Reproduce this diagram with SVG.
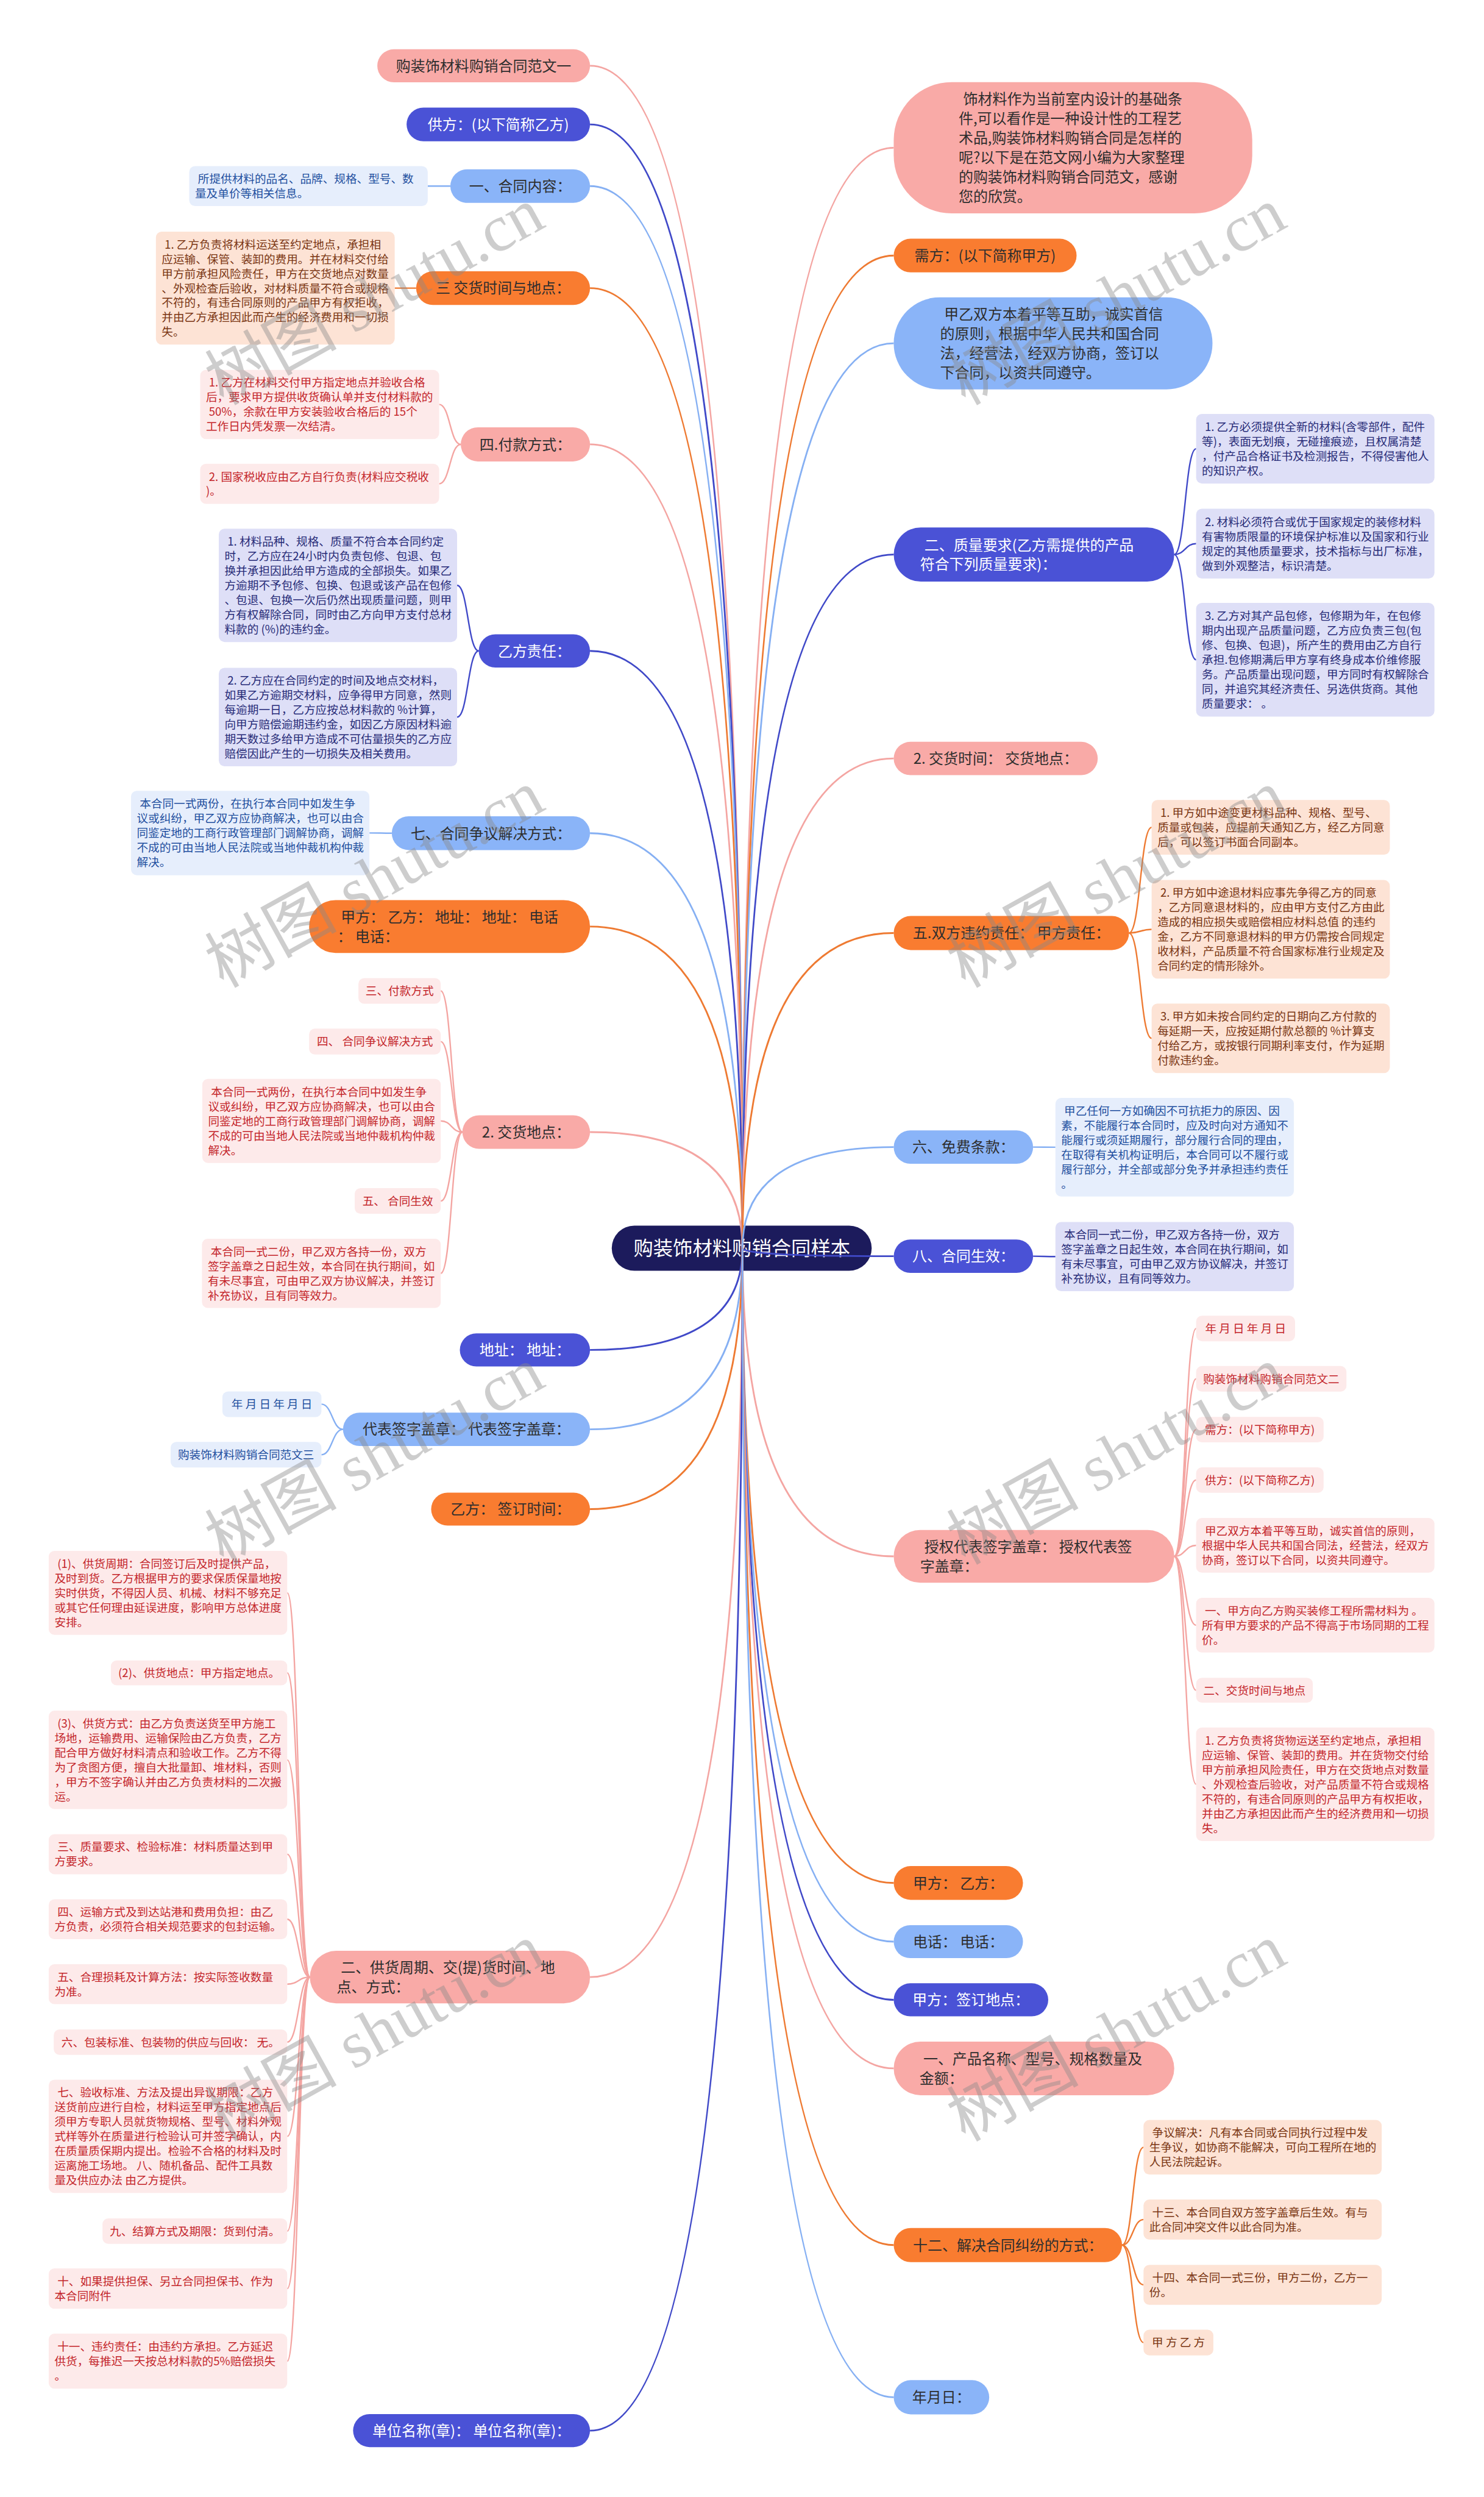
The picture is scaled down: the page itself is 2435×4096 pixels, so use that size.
<svg xmlns="http://www.w3.org/2000/svg" width="2435" height="4096" viewBox="0 0 2435 4096">
<style>
text{font-family:"Noto Sans CJK SC","Liberation Sans",sans-serif}
.m{font-size:25.2px;fill:#2e2e2e}
.w{fill:#ffffff}
.mc{text-anchor:middle}
.c{font-size:19.6px}
.pk{fill:#f9aaa7}.bl{fill:#4a52d6}.lb{fill:#8ab4f8}.or{fill:#f97c30}
.cpk{fill:#fdeaea}.cbl{fill:#dedff7}.clb{fill:#e6eefc}.cor{fill:#fde3d5}
.tpk{fill:#c4262b}.tbl{fill:#272b78}.tlb{fill:#1f4f9f}.tor{fill:#7a3512}
.k{fill:none;stroke-width:3}
.s{fill:none;stroke-width:2.5}
.kpk{stroke:#f4a5a2}.kbl{stroke:#4049c8}.klb{stroke:#86b0f3}.kor{stroke:#ee7a32}
.wm{font-family:"Liberation Serif","Noto Sans CJK SC",serif;font-size:114px;fill:#8a8a8a;opacity:0.42}
</style>
<rect width="2435" height="4096" fill="#ffffff"/>
<g transform="scale(0.951)">
<g id="root"><rect x="1055.5" y="2114" width="448.5" height="78" rx="39" fill="#1c1b5c"/><text class="mc" x="1280" y="2165.6" font-size="34" fill="#ffffff">购装饰材料购销合同样本</text></g>
<g id="connectors">
<path class="k kpk" d="M1281,2153 Q1281,113.5 1018,113.5"/>
<path class="k kbl" d="M1281,2153 Q1281,214.6 1018,214.6"/>
<path class="k klb" d="M1281,2153 Q1281,321 1018,321"/>
<path class="k kor" d="M1281,2153 Q1281,497 1018,497"/>
<path class="k kpk" d="M1281,2153 Q1281,766.5 1018,766.5"/>
<path class="k kbl" d="M1281,2153 Q1281,1122.75 1018,1122.75"/>
<path class="k klb" d="M1281,2153 Q1281,1437.15 1018,1437.15"/>
<path class="k kor" d="M1281,2153 Q1281,1598.2 1018,1598.2"/>
<path class="k kpk" d="M1281,2153 Q1281,1952.7 1018,1952.7"/>
<path class="k kbl" d="M1281,2153 Q1281,2328.5 1018,2328.5"/>
<path class="k klb" d="M1281,2153 Q1281,2465.45 1018,2465.45"/>
<path class="k kor" d="M1281,2153 Q1281,2603.1 1018,2603.1"/>
<path class="k kpk" d="M1281,2153 Q1281,3410.25 1018,3410.25"/>
<path class="k kbl" d="M1281,2153 Q1281,4192.5 1018,4192.5"/>
<path class="k kpk" d="M1281,2153 Q1281,254.8 1542,254.8"/>
<path class="k kor" d="M1281,2153 Q1281,440.8 1542,440.8"/>
<path class="k klb" d="M1281,2153 Q1281,592.2 1542,592.2"/>
<path class="k kbl" d="M1281,2153 Q1281,956.5 1542,956.5"/>
<path class="k kpk" d="M1281,2153 Q1281,1308.25 1542,1308.25"/>
<path class="k kor" d="M1281,2153 Q1281,1609.4 1542,1609.4"/>
<path class="k klb" d="M1281,2153 Q1281,1978.6 1542,1978.6"/>
<path class="k kbl" d="M1281,2153 Q1281,2166.8 1542,2166.8"/>
<path class="k kpk" d="M1281,2153 Q1281,2684.5 1542,2684.5"/>
<path class="k kor" d="M1281,2153 Q1281,3247.9 1542,3247.9"/>
<path class="k klb" d="M1281,2153 Q1281,3349.1 1542,3349.1"/>
<path class="k kbl" d="M1281,2153 Q1281,3449.5 1542,3449.5"/>
<path class="k kpk" d="M1281,2153 Q1281,3567.75 1542,3567.75"/>
<path class="k kor" d="M1281,2153 Q1281,3872.5 1542,3872.5"/>
<path class="k klb" d="M1281,2153 Q1281,4135 1542,4135"/>
<path class="s klb" d="M777,321 L738,321"/>
<path class="s kor" d="M718,497 L681,497"/>
<path class="s kpk" d="M795,766.5 C776.35,766.5 776.35,697.5 757.7,697.5"/>
<path class="s kpk" d="M795,766.5 C776.35,766.5 776.35,834.5 757.7,834.5"/>
<path class="s kbl" d="M826,1122.75 C807.35,1122.75 807.35,1009.7 788.7,1009.7"/>
<path class="s kbl" d="M826,1122.75 C807.35,1122.75 807.35,1236.9 788.7,1236.9"/>
<path class="s klb" d="M676,1437.15 C656.7,1437.15 656.7,1436.8 637.4,1436.8"/>
<path class="s kpk" d="M797.8,1952.7 C779.15,1952.7 779.15,1709.3 760.5,1709.3"/>
<path class="s kpk" d="M797.8,1952.7 C779.15,1952.7 779.15,1796.65 760.5,1796.65"/>
<path class="s kpk" d="M797.8,1952.7 C779.15,1952.7 779.15,1933.5 760.5,1933.5"/>
<path class="s kpk" d="M797.8,1952.7 C779.15,1952.7 779.15,2071.5 760.5,2071.5"/>
<path class="s kpk" d="M797.8,1952.7 C779.15,1952.7 779.15,2196.3 760.5,2196.3"/>
<path class="s klb" d="M591.8,2465.45 C573.2,2465.45 573.2,2422.1 554.6,2422.1"/>
<path class="s klb" d="M591.8,2465.45 C573.2,2465.45 573.2,2509.25 554.6,2509.25"/>
<path class="s kpk" d="M534.7,3410.25 C515.15,3410.25 515.15,2747.5 495.6,2747.5"/>
<path class="s kpk" d="M534.7,3410.25 C515.15,3410.25 515.15,2885.5 495.6,2885.5"/>
<path class="s kpk" d="M534.7,3410.25 C515.15,3410.25 515.15,3035.6 495.6,3035.6"/>
<path class="s kpk" d="M534.7,3410.25 C515.15,3410.25 515.15,3198.3 495.6,3198.3"/>
<path class="s kpk" d="M534.7,3410.25 C515.15,3410.25 515.15,3310.5 495.6,3310.5"/>
<path class="s kpk" d="M534.7,3410.25 C515.15,3410.25 515.15,3422.5 495.6,3422.5"/>
<path class="s kpk" d="M534.7,3410.25 C515.15,3410.25 515.15,3522.4 495.6,3522.4"/>
<path class="s kpk" d="M534.7,3410.25 C515.15,3410.25 515.15,3684.9 495.6,3684.9"/>
<path class="s kpk" d="M534.7,3410.25 C515.15,3410.25 515.15,3848.4 495.6,3848.4"/>
<path class="s kpk" d="M534.7,3410.25 C515.15,3410.25 515.15,3947.5 495.6,3947.5"/>
<path class="s kpk" d="M534.7,3410.25 C515.15,3410.25 515.15,4072.7 495.6,4072.7"/>
<path class="s kbl" d="M2026,956.5 C2044.9,956.5 2044.9,774 2063.75,774"/>
<path class="s kbl" d="M2026,956.5 C2044.9,956.5 2044.9,937.75 2063.75,937.75"/>
<path class="s kbl" d="M2026,956.5 C2044.9,956.5 2044.9,1138 2063.75,1138"/>
<path class="s kor" d="M1948,1609.4 C1967.5,1609.4 1967.5,1427.05 1987,1427.05"/>
<path class="s kor" d="M1948,1609.4 C1967.5,1609.4 1967.5,1603 1987,1603"/>
<path class="s kor" d="M1948,1609.4 C1967.5,1609.4 1967.5,1791 1987,1791"/>
<path class="s klb" d="M1782.5,1978.6 C1801.75,1978.6 1801.75,1978.9 1821,1978.9"/>
<path class="s kbl" d="M1782.5,2166.8 C1801.75,2166.8 1801.75,2167.5 1821,2167.5"/>
<path class="s kpk" d="M2026,2684.5 C2044.9,2684.5 2044.9,2291.45 2063.75,2291.45"/>
<path class="s kpk" d="M2026,2684.5 C2044.9,2684.5 2044.9,2378.35 2063.75,2378.35"/>
<path class="s kpk" d="M2026,2684.5 C2044.9,2684.5 2044.9,2466 2063.75,2466"/>
<path class="s kpk" d="M2026,2684.5 C2044.9,2684.5 2044.9,2553 2063.75,2553"/>
<path class="s kpk" d="M2026,2684.5 C2044.9,2684.5 2044.9,2665.6 2063.75,2665.6"/>
<path class="s kpk" d="M2026,2684.5 C2044.9,2684.5 2044.9,2803.25 2063.75,2803.25"/>
<path class="s kpk" d="M2026,2684.5 C2044.9,2684.5 2044.9,2915.5 2063.75,2915.5"/>
<path class="s kpk" d="M2026,2684.5 C2044.9,2684.5 2044.9,3077.7 2063.75,3077.7"/>
<path class="s kor" d="M1936,3872.5 C1954.5,3872.5 1954.5,3703.8 1973,3703.8"/>
<path class="s kor" d="M1936,3872.5 C1954.5,3872.5 1954.5,3828.5 1973,3828.5"/>
<path class="s kor" d="M1936,3872.5 C1954.5,3872.5 1954.5,3941.1 1973,3941.1"/>
<path class="s kor" d="M1936,3872.5 C1954.5,3872.5 1954.5,4040.6 1973,4040.6"/>
</g>

<g id="n-l1"><rect class="pk" x="651" y="85" width="367" height="57" rx="28.5"/><text class="m mc" x="834.5" y="122.8">购装饰材料购销合同范文一</text></g>
<g id="n-l2"><rect class="bl" x="701.5" y="185.5" width="316.5" height="58.2" rx="29.1"/><text class="m mc w" x="859.75" y="223.9">供方：(以下简称乙方)</text></g>
<g id="n-l3"><rect class="lb" x="777" y="292" width="241" height="58" rx="29"/><text class="m mc" x="897.5" y="330.3">一、合同内容：</text></g>
<g id="n-l3a"><rect class="clb" x="326.5" y="286.5" width="411.5" height="69" rx="10"/><text class="c tlb" x="336.5" y="315.65"><tspan x="341.5">所提供材料的品名、品牌、规格、型号、数</tspan><tspan x="336.5" dy="25.2">量及单价等相关信息。</tspan></text></g>
<g id="n-l4"><rect class="or" x="718" y="468" width="300" height="58" rx="29"/><text class="m mc" x="868" y="506.3">三 交货时间与地点：</text></g>
<g id="n-l4a"><rect class="cor" x="269" y="399.5" width="412" height="195" rx="10"/><text class="c tor" x="279" y="428.65"><tspan x="284">1. 乙方负责将材料运送至约定地点，承担相</tspan><tspan x="279" dy="25.2">应运输、保管、装卸的费用。并在材料交付给</tspan><tspan x="279" dy="25.2">甲方前承担风险责任，甲方在交货地点对数量</tspan><tspan x="279" dy="25.2">、外观检查后验收，对材料质量不符合或规格</tspan><tspan x="279" dy="25.2">不符的，有违合同原则的产品甲方有权拒收，</tspan><tspan x="279" dy="25.2">并由乙方承担因此而产生的经济费用和一切损</tspan><tspan x="279" dy="25.2">失。</tspan></text></g>
<g id="n-l5"><rect class="pk" x="795" y="737" width="223" height="59" rx="29.5"/><text class="m mc" x="906.5" y="775.8">四.付款方式：</text></g>
<g id="n-l5a"><rect class="cpk" x="345.4" y="638" width="412.3" height="119.4" rx="10"/><text class="c tpk" x="355.4" y="667.15"><tspan x="360.4">1. 乙方在材料交付甲方指定地点并验收合格</tspan><tspan x="355.4" dy="25.2">后，要求甲方提供收货确认单并支付材料款的</tspan><tspan x="360.4" dy="25.2">50%，余款在甲方安装验收合格后的 15个</tspan><tspan x="355.4" dy="25.2">工作日内凭发票一次结清。</tspan></text></g>
<g id="n-l5b"><rect class="cpk" x="345.4" y="800" width="412.3" height="69" rx="10"/><text class="c tpk" x="355.4" y="829.15"><tspan x="360.4">2. 国家税收应由乙方自行负责(材料应交税收</tspan><tspan x="355.4" dy="25.2">)。</tspan></text></g>
<g id="n-l6"><rect class="bl" x="826" y="1094" width="192" height="57.5" rx="28.75"/><text class="m mc w" x="922" y="1132.05">乙方责任：</text></g>
<g id="n-l6a"><rect class="cbl" x="377.5" y="912" width="411.2" height="195.4" rx="10"/><text class="c tbl" x="387.5" y="941.35"><tspan x="392.5">1. 材料品种、规格、质量不符合本合同约定</tspan><tspan x="387.5" dy="25.2">时，乙方应在24小时内负责包修、包退、包</tspan><tspan x="387.5" dy="25.2">换并承担因此给甲方造成的全部损失。如果乙</tspan><tspan x="387.5" dy="25.2">方逾期不予包修、包换、包退或该产品在包修</tspan><tspan x="387.5" dy="25.2">、包退、包换一次后仍然出现质量问题，则甲</tspan><tspan x="387.5" dy="25.2">方有权解除合同，同时由乙方向甲方支付总材</tspan><tspan x="387.5" dy="25.2">料款的 (%)的违约金。</tspan></text></g>
<g id="n-l6b"><rect class="cbl" x="377.5" y="1152" width="411.2" height="169.8" rx="10"/><text class="c tbl" x="387.5" y="1181.15"><tspan x="392.5">2. 乙方应在合同约定的时间及地点交材料，</tspan><tspan x="387.5" dy="25.2">如果乙方逾期交材料，应争得甲方同意，然则</tspan><tspan x="387.5" dy="25.2">每逾期一日，乙方应按总材料款的 %计算，</tspan><tspan x="387.5" dy="25.2">向甲方赔偿逾期违约金，如因乙方原因材料逾</tspan><tspan x="387.5" dy="25.2">期天数过多给甲方造成不可估量损失的乙方应</tspan><tspan x="387.5" dy="25.2">赔偿因此产生的一切损失及相关费用。</tspan></text></g>
<g id="n-l7"><rect class="lb" x="676" y="1408" width="342" height="58.3" rx="29.15"/><text class="m mc" x="847" y="1446.45">七、合同争议解决方式：</text></g>
<g id="n-l7a"><rect class="clb" x="226" y="1364" width="411.4" height="145.6" rx="10"/><text class="c tlb" x="236" y="1393.65"><tspan x="241">本合同一式两份，在执行本合同中如发生争</tspan><tspan x="236" dy="25.2">议或纠纷，甲乙双方应协商解决，也可以由合</tspan><tspan x="236" dy="25.2">同鉴定地的工商行政管理部门调解协商，调解</tspan><tspan x="236" dy="25.2">不成的可由当地人民法院或当地仲裁机构仲裁</tspan><tspan x="236" dy="25.2">解决。</tspan></text></g>
<g id="n-l8"><rect class="or" x="533.3" y="1552.5" width="484.7" height="91.4" rx="45.7"/><text class="m" x="582" y="1590.75"><tspan x="588">甲方： 乙方： 地址： 地址： 电话</tspan><tspan x="582" dy="33.5">： 电话：</tspan></text></g>
<g id="n-l9"><rect class="pk" x="797.8" y="1923.7" width="220.2" height="58" rx="29"/><text class="m mc" x="907.9" y="1962">2. 交货地点：</text></g>
<g id="n-l9a"><rect class="cpk" x="618.4" y="1687.2" width="142.1" height="44.2" rx="10"/><text class="c tpk mc" x="689.45" y="1716.55">三、付款方式</text></g>
<g id="n-l9b"><rect class="cpk" x="533.3" y="1774.3" width="227.2" height="44.7" rx="10"/><text class="c tpk mc" x="646.9" y="1803.9">四、 合同争议解决方式</text></g>
<g id="n-l9c"><rect class="cpk" x="349" y="1861" width="411.5" height="145" rx="10"/><text class="c tpk" x="359" y="1890.35"><tspan x="364">本合同一式两份，在执行本合同中如发生争</tspan><tspan x="359" dy="25.2">议或纠纷，甲乙双方应协商解决，也可以由合</tspan><tspan x="359" dy="25.2">同鉴定地的工商行政管理部门调解协商，调解</tspan><tspan x="359" dy="25.2">不成的可由当地人民法院或当地仲裁机构仲裁</tspan><tspan x="359" dy="25.2">解决。</tspan></text></g>
<g id="n-l9d"><rect class="cpk" x="612" y="2049.4" width="148.5" height="44.2" rx="10"/><text class="c tpk mc" x="686.25" y="2078.75">五、 合同生效</text></g>
<g id="n-l9e"><rect class="cpk" x="348.5" y="2136.6" width="412" height="119.4" rx="10"/><text class="c tpk" x="358.5" y="2165.75"><tspan x="363.5">本合同一式二份，甲乙双方各持一份，双方</tspan><tspan x="358.5" dy="25.2">签字盖章之日起生效，本合同在执行期间，如</tspan><tspan x="358.5" dy="25.2">有未尽事宜，可由甲乙双方协议解决，并签订</tspan><tspan x="358.5" dy="25.2">补充协议，且有同等效力。</tspan></text></g>
<g id="n-l10"><rect class="bl" x="793.4" y="2300" width="224.6" height="57" rx="28.5"/><text class="m mc w" x="905.7" y="2337.8">地址： 地址：</text></g>
<g id="n-l11"><rect class="lb" x="591.8" y="2436.6" width="426.2" height="57.7" rx="28.85"/><text class="m mc" x="804.9" y="2474.75">代表签字盖章： 代表签字盖章：</text></g>
<g id="n-l11a"><rect class="clb" x="383.7" y="2400" width="170.9" height="44.2" rx="10"/><text class="c tlb mc" x="469.15" y="2429.35">年 月 日 年 月 日</text></g>
<g id="n-l11b"><rect class="clb" x="294.4" y="2487.2" width="260.2" height="44.1" rx="10"/><text class="c tlb mc" x="424.5" y="2516.5">购装饰材料购销合同范文三</text></g>
<g id="n-l12"><rect class="or" x="743.9" y="2574.7" width="274.1" height="56.8" rx="28.4"/><text class="m mc" x="880.95" y="2612.4">乙方： 签订时间：</text></g>
<g id="n-l13"><rect class="pk" x="534.7" y="3365" width="483.3" height="90.5" rx="45.25"/><text class="m" x="581" y="3402.8"><tspan x="588">二、供货周期、交(提)货时间、地</tspan><tspan x="581" dy="33.5">点、方式：</tspan></text></g>
<g id="n-l13a"><rect class="cpk" x="84" y="2675" width="411.6" height="145" rx="10"/><text class="c tpk" x="94" y="2704.35"><tspan x="99">(1)、供货周期：合同签订后及时提供产品，</tspan><tspan x="94" dy="25.2">及时到货。乙方根据甲方的要求保质保量地按</tspan><tspan x="94" dy="25.2">实时供货，不得因人员、机械、材料不够充足</tspan><tspan x="94" dy="25.2">或其它任何理由延误进度，影响甲方总体进度</tspan><tspan x="94" dy="25.2">安排。</tspan></text></g>
<g id="n-l13b"><rect class="cpk" x="191.3" y="2864" width="304.3" height="43" rx="10"/><text class="c tpk mc" x="343.45" y="2892.75">(2)、供货地点：甲方指定地点。</text></g>
<g id="n-l13c"><rect class="cpk" x="84" y="2950.7" width="411.6" height="169.8" rx="10"/><text class="c tpk" x="94" y="2979.85"><tspan x="99">(3)、供货方式：由乙方负责送货至甲方施工</tspan><tspan x="94" dy="25.2">场地，运输费用、运输保险由乙方负责，乙方</tspan><tspan x="94" dy="25.2">配合甲方做好材料清点和验收工作。乙方不得</tspan><tspan x="94" dy="25.2">为了贪图方便，擅自大批量卸、堆材料，否则</tspan><tspan x="94" dy="25.2">，甲方不签字确认并由乙方负责材料的二次搬</tspan><tspan x="94" dy="25.2">运。</tspan></text></g>
<g id="n-l13d"><rect class="cpk" x="84" y="3163.8" width="411.6" height="69" rx="10"/><text class="c tpk" x="94" y="3192.95"><tspan x="99">三、质量要求、检验标准：材料质量达到甲</tspan><tspan x="94" dy="25.2">方要求。</tspan></text></g>
<g id="n-l13e"><rect class="cpk" x="84" y="3276" width="411.6" height="69" rx="10"/><text class="c tpk" x="94" y="3305.15"><tspan x="99">四、运输方式及到达站港和费用负担：由乙</tspan><tspan x="94" dy="25.2">方负责，必须符合相关规范要求的包封运输。</tspan></text></g>
<g id="n-l13f"><rect class="cpk" x="84" y="3388" width="411.6" height="69" rx="10"/><text class="c tpk" x="94" y="3417.15"><tspan x="99">五、合理损耗及计算方法：按实际签收数量</tspan><tspan x="94" dy="25.2">为准。</tspan></text></g>
<g id="n-l13g"><rect class="cpk" x="92.8" y="3500.4" width="402.8" height="44" rx="10"/><text class="c tpk mc" x="294.2" y="3529.65">六、包装标准、包装物的供应与回收： 无。</text></g>
<g id="n-l13h"><rect class="cpk" x="84" y="3587.2" width="411.6" height="195.4" rx="10"/><text class="c tpk" x="94" y="3616.55"><tspan x="99">七、验收标准、方法及提出异议期限：乙方</tspan><tspan x="94" dy="25.2">送货前应进行自检，材料运至甲方指定地点后</tspan><tspan x="94" dy="25.2">须甲方专职人员就货物规格、型号、材料外观</tspan><tspan x="94" dy="25.2">式样等外在质量进行检验认可并签字确认，内</tspan><tspan x="94" dy="25.2">在质量质保期内提出。检验不合格的材料及时</tspan><tspan x="94" dy="25.2">运离施工场地。 八、随机备品、配件工具数</tspan><tspan x="94" dy="25.2">量及供应办法 由乙方提供。</tspan></text></g>
<g id="n-l13i"><rect class="cpk" x="176.8" y="3826.4" width="318.8" height="44" rx="10"/><text class="c tpk mc" x="336.2" y="3855.65">九、结算方式及期限：货到付清。</text></g>
<g id="n-l13j"><rect class="cpk" x="84" y="3912.6" width="411.6" height="69.8" rx="10"/><text class="c tpk" x="94" y="3942.15"><tspan x="99">十、如果提供担保、另立合同担保书、作为</tspan><tspan x="94" dy="25.2">本合同附件</tspan></text></g>
<g id="n-l13k"><rect class="cpk" x="84" y="4025.2" width="411.6" height="95" rx="10"/><text class="c tpk" x="94" y="4054.75"><tspan x="99">十一、违约责任：由违约方承担。乙方延迟</tspan><tspan x="94" dy="25.2">供货，每推迟一天按总材料款的5%赔偿损失</tspan><tspan x="94" dy="25.2">。</tspan></text></g>
<g id="n-l14"><rect class="bl" x="609.2" y="4164" width="408.8" height="57" rx="28.5"/><text class="m mc w" x="813.6" y="4201.8">单位名称(章)： 单位名称(章)：</text></g>

<g id="n-r1"><rect class="pk" x="1542" y="141.6" width="618.6" height="226.4" rx="100"/><text class="m" x="1654" y="180.35"><tspan x="1662">饰材料作为当前室内设计的基础条</tspan><tspan x="1654" dy="33.5">件,可以看作是一种设计性的工程艺</tspan><tspan x="1654" dy="33.5">术品,购装饰材料购销合同是怎样的</tspan><tspan x="1654" dy="33.5">呢?以下是在范文网小编为大家整理</tspan><tspan x="1654" dy="33.5">的购装饰材料购销合同范文，感谢</tspan><tspan x="1654" dy="33.5">您的欣赏。</tspan></text></g>
<g id="n-r2"><rect class="or" x="1542" y="411.7" width="315.5" height="58.2" rx="29.1"/><text class="m mc" x="1699.75" y="450.1">需方：(以下简称甲方)</text></g>
<g id="n-r3"><rect class="lb" x="1542" y="512.8" width="550" height="158.8" rx="79.4"/><text class="m" x="1622" y="551.25"><tspan x="1629">甲乙双方本着平等互助，诚实首信</tspan><tspan x="1622" dy="33.5">的原则，根据中华人民共和国合同</tspan><tspan x="1622" dy="33.5">法，经营法，经双方协商，签订以</tspan><tspan x="1622" dy="33.5">下合同，以资共同遵守。</tspan></text></g>
<g id="n-r4"><rect class="bl" x="1542" y="909.8" width="484" height="93.4" rx="46.7"/><text class="m w" x="1587.5" y="949.05"><tspan x="1595">二、质量要求(乙方需提供的产品</tspan><tspan x="1587.5" dy="33.5">符合下列质量要求)：</tspan></text></g>
<g id="n-r4a"><rect class="cbl" x="2063.75" y="714" width="411.25" height="120" rx="10"/><text class="c tbl" x="2073.75" y="743.45"><tspan x="2078.75">1. 乙方必须提供全新的材料(含零部件，配件</tspan><tspan x="2073.75" dy="25.2">等)，表面无划痕，无碰撞痕迹，且权属清楚</tspan><tspan x="2073.75" dy="25.2">，付产品合格证书及检测报告，不得侵害他人</tspan><tspan x="2073.75" dy="25.2">的知识产权。</tspan></text></g>
<g id="n-r4b"><rect class="cbl" x="2063.75" y="877.5" width="411.25" height="120.5" rx="10"/><text class="c tbl" x="2073.75" y="907.2"><tspan x="2078.75">2. 材料必须符合或优于国家规定的装修材料</tspan><tspan x="2073.75" dy="25.2">有害物质限量的环境保护标准以及国家和行业</tspan><tspan x="2073.75" dy="25.2">规定的其他质量要求，技术指标与出厂标准，</tspan><tspan x="2073.75" dy="25.2">做到外观整洁，标识清楚。</tspan></text></g>
<g id="n-r4c"><rect class="cbl" x="2063.75" y="1040" width="411.25" height="196" rx="10"/><text class="c tbl" x="2073.75" y="1069.65"><tspan x="2078.75">3. 乙方对其产品包修，包修期为年，在包修</tspan><tspan x="2073.75" dy="25.2">期内出现产品质量问题，乙方应负责三包(包</tspan><tspan x="2073.75" dy="25.2">修、包换、包退)，所产生的费用由乙方自行</tspan><tspan x="2073.75" dy="25.2">承担.包修期满后甲方享有终身成本价维修服</tspan><tspan x="2073.75" dy="25.2">务。产品质量出现问题，甲方同时有权解除合</tspan><tspan x="2073.75" dy="25.2">同，并追究其经济责任、另选供货商。其他</tspan><tspan x="2073.75" dy="25.2">质量要求： 。</tspan></text></g>
<g id="n-r5"><rect class="pk" x="1542" y="1279.5" width="352" height="57.5" rx="28.75"/><text class="m mc" x="1718" y="1317.55">2. 交货时间： 交货地点：</text></g>
<g id="n-r6"><rect class="or" x="1542" y="1580" width="406" height="58.8" rx="29.4"/><text class="m mc" x="1745" y="1618.7">五.双方违约责任： 甲方责任：</text></g>
<g id="n-r6a"><rect class="cor" x="1987" y="1379.9" width="411" height="94.3" rx="10"/><text class="c tor" x="1997" y="1409.1"><tspan x="2002">1. 甲方如中途变更材料品种、规格、型号、</tspan><tspan x="1997" dy="25.2">质量或包装，应提前天通知乙方，经乙方同意</tspan><tspan x="1997" dy="25.2">后，可以签订书面合同副本。</tspan></text></g>
<g id="n-r6b"><rect class="cor" x="1987" y="1518" width="411" height="170" rx="10"/><text class="c tor" x="1997" y="1547.25"><tspan x="2002">2. 甲方如中途退材料应事先争得乙方的同意</tspan><tspan x="1997" dy="25.2">，乙方同意退材料的，应由甲方支付乙方由此</tspan><tspan x="1997" dy="25.2">造成的相应损失或赔偿相应材料总值 的违约</tspan><tspan x="1997" dy="25.2">金，乙方不同意退材料的甲方仍需按合同规定</tspan><tspan x="1997" dy="25.2">收材料，产品质量不符合国家标准行业规定及</tspan><tspan x="1997" dy="25.2">合同约定的情形除外。</tspan></text></g>
<g id="n-r6c"><rect class="cor" x="1987" y="1731" width="411" height="120" rx="10"/><text class="c tor" x="1997" y="1760.45"><tspan x="2002">3. 甲方如未按合同约定的日期向乙方付款的</tspan><tspan x="1997" dy="25.2">每延期一天，应按延期付款总额的 %计算支</tspan><tspan x="1997" dy="25.2">付给乙方，或按银行同期利率支付，作为延期</tspan><tspan x="1997" dy="25.2">付款违约金。</tspan></text></g>
<g id="n-r7"><rect class="lb" x="1542" y="1949.8" width="240.5" height="57.6" rx="28.8"/><text class="m mc" x="1662.25" y="1987.9">六、免费条款：</text></g>
<g id="n-r7a"><rect class="clb" x="1821" y="1893.9" width="411.5" height="170" rx="10"/><text class="c tlb" x="1831" y="1923.15"><tspan x="1836">甲乙任何一方如确因不可抗拒力的原因、因</tspan><tspan x="1831" dy="25.2">素，不能履行本合同时，应及时向对方通知不</tspan><tspan x="1831" dy="25.2">能履行或须延期履行，部分履行合同的理由，</tspan><tspan x="1831" dy="25.2">在取得有关机构证明后，本合同可以不履行或</tspan><tspan x="1831" dy="25.2">履行部分，并全部或部分免予并承担违约责任</tspan><tspan x="1831" dy="25.2">。</tspan></text></g>
<g id="n-r8"><rect class="bl" x="1542" y="2138" width="240.5" height="57.6" rx="28.8"/><text class="m mc w" x="1662.25" y="2176.1">八、合同生效：</text></g>
<g id="n-r8a"><rect class="cbl" x="1821" y="2107.8" width="411.5" height="119.4" rx="10"/><text class="c tbl" x="1831" y="2136.95"><tspan x="1836">本合同一式二份，甲乙双方各持一份，双方</tspan><tspan x="1831" dy="25.2">签字盖章之日起生效，本合同在执行期间，如</tspan><tspan x="1831" dy="25.2">有未尽事宜，可由甲乙双方协议解决，并签订</tspan><tspan x="1831" dy="25.2">补充协议，且有同等效力。</tspan></text></g>
<g id="n-r9"><rect class="pk" x="1542" y="2639" width="484" height="91" rx="45.5"/><text class="m" x="1587.5" y="2677.05"><tspan x="1595">授权代表签字盖章： 授权代表签</tspan><tspan x="1587.5" dy="33.5">字盖章：</tspan></text></g>
<g id="n-r9a"><rect class="cpk" x="2063.75" y="2269.4" width="170.7" height="44.1" rx="10"/><text class="c tpk mc" x="2149.1" y="2298.7">年 月 日 年 月 日</text></g>
<g id="n-r9b"><rect class="cpk" x="2063.75" y="2356.3" width="259.4" height="44.1" rx="10"/><text class="c tpk mc" x="2193.45" y="2385.6">购装饰材料购销合同范文二</text></g>
<g id="n-r9c"><rect class="cpk" x="2063.75" y="2444" width="220" height="44" rx="10"/><text class="c tpk mc" x="2173.75" y="2473.25">需方：(以下简称甲方)</text></g>
<g id="n-r9d"><rect class="cpk" x="2063.75" y="2531" width="220" height="44" rx="10"/><text class="c tpk mc" x="2173.75" y="2560.25">供方：(以下简称乙方)</text></g>
<g id="n-r9e"><rect class="cpk" x="2063.75" y="2618.4" width="411.25" height="94.4" rx="10"/><text class="c tpk" x="2073.75" y="2647.65"><tspan x="2078.75">甲乙双方本着平等互助，诚实首信的原则，</tspan><tspan x="2073.75" dy="25.2">根据中华人民共和国合同法，经营法，经双方</tspan><tspan x="2073.75" dy="25.2">协商，签订以下合同，以资共同遵守。</tspan></text></g>
<g id="n-r9f"><rect class="cpk" x="2063.75" y="2756" width="411.25" height="94.5" rx="10"/><text class="c tpk" x="2073.75" y="2785.3"><tspan x="2078.75">一、甲方向乙方购买装修工程所需材料为 。</tspan><tspan x="2073.75" dy="25.2">所有甲方要求的产品不得高于市场同期的工程</tspan><tspan x="2073.75" dy="25.2">价。</tspan></text></g>
<g id="n-r9g"><rect class="cpk" x="2063.75" y="2894" width="201.4" height="43" rx="10"/><text class="c tpk mc" x="2164.45" y="2922.75">二、交货时间与地点</text></g>
<g id="n-r9h"><rect class="cpk" x="2063.75" y="2979.7" width="411.25" height="196" rx="10"/><text class="c tpk" x="2073.75" y="3009.35"><tspan x="2078.75">1. 乙方负责将货物运送至约定地点，承担相</tspan><tspan x="2073.75" dy="25.2">应运输、保管、装卸的费用。并在货物交付给</tspan><tspan x="2073.75" dy="25.2">甲方前承担风险责任，甲方在交货地点对数量</tspan><tspan x="2073.75" dy="25.2">、外观检查后验收，对产品质量不符合或规格</tspan><tspan x="2073.75" dy="25.2">不符的，有违合同原则的产品甲方有权拒收，</tspan><tspan x="2073.75" dy="25.2">并由乙方承担因此而产生的经济费用和一切损</tspan><tspan x="2073.75" dy="25.2">失。</tspan></text></g>
<g id="n-r10"><rect class="or" x="1542" y="3218.8" width="223" height="58.2" rx="29.1"/><text class="m mc" x="1653.5" y="3257.2">甲方： 乙方：</text></g>
<g id="n-r11"><rect class="lb" x="1542" y="3320.6" width="223" height="57" rx="28.5"/><text class="m mc" x="1653.5" y="3358.4">电话： 电话：</text></g>
<g id="n-r12"><rect class="bl" x="1542" y="3421" width="266.6" height="57" rx="28.5"/><text class="m mc w" x="1675.3" y="3458.8">甲方：签订地点：</text></g>
<g id="n-r13"><rect class="pk" x="1542" y="3521.5" width="484" height="92.5" rx="46.25"/><text class="m" x="1586.5" y="3560.3"><tspan x="1593">一、产品名称、型号、规格数量及</tspan><tspan x="1586.5" dy="33.5">金额：</tspan></text></g>
<g id="n-r14"><rect class="or" x="1542" y="3843" width="394" height="59" rx="29.5"/><text class="m mc" x="1739" y="3881.8">十二、解决合同纠纷的方式：</text></g>
<g id="n-r14a"><rect class="cor" x="1973" y="3656.8" width="411" height="94" rx="10"/><text class="c tor" x="1983" y="3685.85"><tspan x="1988">争议解决：凡有本合同或合同执行过程中发</tspan><tspan x="1983" dy="25.2">生争议，如协商不能解决，可向工程所在地的</tspan><tspan x="1983" dy="25.2">人民法院起诉。</tspan></text></g>
<g id="n-r14b"><rect class="cor" x="1973" y="3794" width="411" height="69" rx="10"/><text class="c tor" x="1983" y="3823.15"><tspan x="1988">十三、本合同自双方签字盖章后生效。有与</tspan><tspan x="1983" dy="25.2">此合同冲突文件以此合同为准。</tspan></text></g>
<g id="n-r14c"><rect class="cor" x="1973" y="3906.6" width="411" height="69" rx="10"/><text class="c tor" x="1983" y="3935.75"><tspan x="1988">十四、本合同一式三份，甲方二份，乙方一</tspan><tspan x="1983" dy="25.2">份。</tspan></text></g>
<g id="n-r14d"><rect class="cor" x="1973" y="4018.5" width="120.5" height="44.2" rx="10"/><text class="c tor mc" x="2033.25" y="4047.85">甲 方 乙 方</text></g>
<g id="n-r15"><rect class="lb" x="1542" y="4105.5" width="164.8" height="59" rx="29.5"/><text class="m mc" x="1624.4" y="4144.3">年月日：</text></g>

<g id="watermark">
<text class="wm" transform="translate(385,700) rotate(-29)" textLength="640" lengthAdjust="spacingAndGlyphs">树图 shutu.cn</text>
<text class="wm" transform="translate(385,1705) rotate(-29)" textLength="640" lengthAdjust="spacingAndGlyphs">树图 shutu.cn</text>
<text class="wm" transform="translate(385,2700) rotate(-29)" textLength="640" lengthAdjust="spacingAndGlyphs">树图 shutu.cn</text>
<text class="wm" transform="translate(385,3695) rotate(-29)" textLength="640" lengthAdjust="spacingAndGlyphs">树图 shutu.cn</text>
<text class="wm" transform="translate(1665,700) rotate(-29)" textLength="640" lengthAdjust="spacingAndGlyphs">树图 shutu.cn</text>
<text class="wm" transform="translate(1665,1705) rotate(-29)" textLength="640" lengthAdjust="spacingAndGlyphs">树图 shutu.cn</text>
<text class="wm" transform="translate(1665,2700) rotate(-29)" textLength="640" lengthAdjust="spacingAndGlyphs">树图 shutu.cn</text>
<text class="wm" transform="translate(1665,3695) rotate(-29)" textLength="640" lengthAdjust="spacingAndGlyphs">树图 shutu.cn</text>
</g>
</g>
</svg>
